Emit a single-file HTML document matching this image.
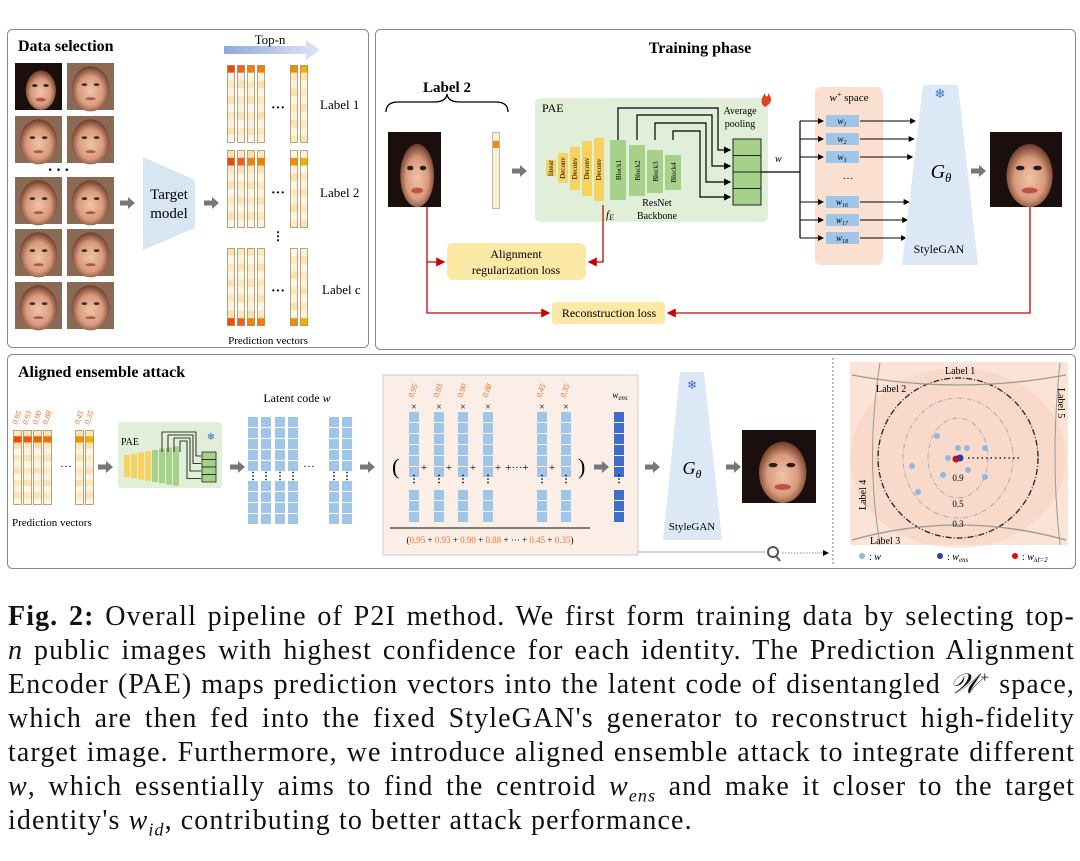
<!DOCTYPE html>
<html><head><meta charset="utf-8"><style>
body{margin:0;background:#fff;width:1080px;height:861px;overflow:hidden;position:relative;font-family:"Liberation Serif",serif}
svg{position:absolute;left:0;top:0}
.cap{position:absolute;left:8px;width:1067px;font-size:28px;letter-spacing:1.1px;line-height:34px;text-align:justify;text-align-last:justify;white-space:nowrap;color:#111}
.cap.l{text-align-last:left}
</style></head><body>
<svg id="s" width="1080" height="590" viewBox="0 0 1080 590" font-family="Liberation Serif, serif">
<defs>
<radialGradient id="skin" cx="50%" cy="55%" r="55%"><stop offset="0" stop-color="#f0c4a8"/><stop offset="0.6" stop-color="#d99a7c"/><stop offset="1" stop-color="#6a3a2a"/></radialGradient>
<linearGradient id="topn" x1="0" x2="1"><stop offset="0" stop-color="#8fa9dc"/><stop offset="1" stop-color="#dde6f6"/></linearGradient>
<g id="face"><rect width="100" height="100" fill="#1a0f0c"/><ellipse cx="55" cy="58" rx="32" ry="42" fill="url(#skin)"/><ellipse cx="42" cy="48" rx="6" ry="3" fill="#2b1a14"/><ellipse cx="66" cy="48" rx="6" ry="3" fill="#2b1a14"/><ellipse cx="55" cy="78" rx="11" ry="4" fill="#c0504a"/></g>
<g id="face2"><rect width="100" height="100" fill="#8a6a55"/><ellipse cx="50" cy="55" rx="40" ry="48" fill="url(#skin)"/><ellipse cx="37" cy="46" rx="6" ry="3" fill="#3b2a24"/><ellipse cx="63" cy="46" rx="6" ry="3" fill="#3b2a24"/><ellipse cx="50" cy="76" rx="11" ry="3" fill="#a45a50"/></g>
<marker id="ab" markerWidth="6" markerHeight="6" refX="5" refY="3" orient="auto"><path d="M0,0L6,3L0,6z" fill="#000"/></marker>
<marker id="ar" markerWidth="7" markerHeight="7" refX="6" refY="3.5" orient="auto"><path d="M0,0L7,3.5L0,7z" fill="#c00"/></marker>
<g id="garrow"><path d="M0,-2.5h8v-3.5l7,6l-7,6v-3.5h-8z" fill="#777"/></g>
</defs>
<rect x="7.5" y="29.5" width="361" height="318" rx="5" fill="none" stroke="#888"/>
<rect x="375.5" y="29.5" width="700" height="320" rx="5" fill="none" stroke="#888"/>
<rect x="7.5" y="354.5" width="1068" height="214" rx="5" fill="none" stroke="#888"/>
<line x1="833" y1="358" x2="833" y2="566" stroke="#777" stroke-dasharray="2,2"/>
<text x="18" y="51" font-size="16" font-weight="bold">Data selection</text>
<text x="700" y="53" font-size="16" font-weight="bold" text-anchor="middle">Training phase</text>
<text x="18" y="377" font-size="16" font-weight="bold">Aligned ensemble attack</text>
<g id="faces"></g>
<text x="60" y="175" font-size="16" font-weight="bold" text-anchor="middle" letter-spacing="3">···</text>
<use href="#garrow" x="120" y="203"/>
<path d="M143,157L195,180L195,228L143,250z" fill="#d6e6f2"/>
<text x="169" y="199" font-size="15" text-anchor="middle">Target</text>
<text x="169" y="218" font-size="15" text-anchor="middle">model</text>
<use href="#garrow" x="204" y="203"/>
<path d="M224,46h82v-6l14,10l-14,10v-6h-82z" fill="url(#topn)"/>
<text x="270" y="44" font-size="13" text-anchor="middle">Top-n</text>
<g id="pv"></g>
<text x="320" y="109" font-size="13">Label 1</text>
<text x="320" y="197" font-size="13">Label 2</text>
<text x="322" y="294" font-size="13">Label c</text>
<text x="268" y="344" font-size="11" text-anchor="middle">Prediction vectors</text>
<text x="278" y="240" font-size="12" font-weight="bold" text-anchor="middle">⋮</text>
<text x="447" y="92" font-size="15" font-weight="bold" text-anchor="middle">Label 2</text>
<path d="M386,112q0,-10 12,-10h36q12,0 13,-8q1,8 13,8h36q12,0 12,10" fill="none" stroke="#000" stroke-width="1.3"/>
<use href="#face" transform="translate(388,132) scale(0.53,0.75)"/>
<rect x="492.5" y="132.5" width="7" height="76" fill="#fdf0cf" stroke="#bbb"/>
<rect x="493" y="141" width="6" height="7" fill="#f08c10"/>
<use href="#garrow" x="512" y="171"/>
<rect x="535" y="98" width="233" height="124" rx="5" fill="#e2efd8"/>
<text x="542" y="112" font-size="12">PAE</text>
<g id="pae"></g>
<text x="657" y="206" font-size="10" text-anchor="middle">ResNet</text>
<text x="657" y="219" font-size="10" text-anchor="middle">Backbone</text>
<text x="606" y="218" font-size="11" font-style="italic">f<tspan font-size="8" dy="2">E</tspan></text>
<text x="740" y="114" font-size="10" text-anchor="middle">Average</text>
<text x="740" y="127" font-size="10" text-anchor="middle">pooling</text>
<path d="M765,107c-6,-4 -3,-10 0,-14c0,5 4,4 3,0c4,4 5,10 -3,14z" fill="#d42"/>
<text x="775" y="162" font-size="10" font-style="italic">w</text>
<rect x="815" y="87" width="68" height="178" rx="6" fill="#fbe0d1"/>
<text x="849" y="101" font-size="11" text-anchor="middle"><tspan font-style="italic">w</tspan><tspan font-size="8" dy="-4">+</tspan><tspan dy="4"> space</tspan></text>
<text x="848" y="182" font-size="11" text-anchor="middle">···</text>
<g id="wp"></g>
<path d="M923,85L958,85L978,265L902,265z" fill="#dce8f5"/>
<text x="940" y="98" font-size="13" fill="#3a6ad8" text-anchor="middle">❄</text>
<text x="941" y="178" font-size="20" font-style="italic" text-anchor="middle">G<tspan font-size="13" dy="4">θ</tspan></text>
<text x="939" y="253" font-size="12" text-anchor="middle">StyleGAN</text>
<use href="#garrow" x="971" y="171"/>
<use href="#face" transform="translate(990,132) scale(0.72,0.75)"/>
<rect x="447" y="243" width="139" height="37" rx="6" fill="#fde9a6"/>
<text x="516" y="258" font-size="12" text-anchor="middle">Alignment</text>
<text x="516" y="274" font-size="12" text-anchor="middle">regularization loss</text>
<rect x="552" y="302" width="113" height="22" rx="3" fill="#fde9a6"/>
<text x="609" y="317" font-size="12" text-anchor="middle">Reconstruction loss</text>
<g fill="none" stroke="#c00" stroke-width="1.3">
<path d="M427,207V313H549" marker-end="url(#ar)"/>
<path d="M427,262H444" marker-end="url(#ar)"/>
<path d="M603,205V262H589" marker-end="url(#ar)"/>
<path d="M1030,207V313H668" marker-end="url(#ar)"/>
</g>
<g id="bottom"></g>
<text x="12" y="526" font-size="11">Prediction vectors</text>
<text x="60" y="470" font-size="12">···</text>
<use href="#garrow" x="98" y="467"/>
<rect x="118" y="422" width="104" height="66" rx="3" fill="#e2efd8"/>
<text x="121" y="445" font-size="10">PAE</text>
<text x="211" y="440" font-size="10" fill="#3a6ad8" text-anchor="middle">❄</text>
<use href="#garrow" x="230" y="467"/>
<text x="297" y="402" font-size="12" text-anchor="middle">Latent code <tspan font-style="italic">w</tspan></text>
<text x="303" y="470" font-size="12">···</text>
<use href="#garrow" x="360" y="467"/>
<rect x="383" y="375" width="255" height="180" fill="#fbeee6" stroke="#ccc"/>
<line x1="390" y1="528" x2="590" y2="528" stroke="#555" stroke-width="1.5"/>
<text x="490" y="543" font-size="9" text-anchor="middle">(<tspan fill="#f07030">0.95</tspan> + <tspan fill="#f07030">0.93</tspan> + <tspan fill="#f07030">0.90</tspan> + <tspan fill="#f07030">0.88</tspan> + ··· + <tspan fill="#f07030">0.45</tspan> + <tspan fill="#f07030">0.35</tspan>)</text>
<text x="392" y="474" font-size="22">(</text>
<text x="578" y="474" font-size="22">)</text>
<text x="620" y="398" font-size="9" font-style="italic" text-anchor="middle">w<tspan font-size="7" dy="2">ens</tspan></text>
<use href="#garrow" x="594" y="467"/>
<use href="#garrow" x="645" y="467"/>
<path d="M680,372L704,372L722,540L663,540z" fill="#dce8f5"/>
<text x="692" y="389" font-size="12" fill="#3a6ad8" text-anchor="middle">❄</text>
<text x="692" y="474" font-size="18" font-style="italic" text-anchor="middle">G<tspan font-size="12" dy="4">θ</tspan></text>
<text x="692" y="530" font-size="11" text-anchor="middle">StyleGAN</text>
<use href="#garrow" x="726" y="467"/>
<use href="#face" transform="translate(742,430) scale(0.74,0.73)"/>
<line x1="638" y1="552" x2="765" y2="552" stroke="#aaa"/>
<circle cx="773" cy="552" r="5" fill="none" stroke="#555" stroke-width="2"/>
<line x1="776" y1="556" x2="780" y2="561" stroke="#555" stroke-width="2"/>
<path d="M782,553H828" stroke="#888" stroke-dasharray="1.5,1.5" marker-end="url(#ab)"/>
<rect x="850" y="362" width="218" height="183" fill="#fbe3d5"/>
<ellipse cx="958" cy="458" rx="108" ry="90" fill="#f7d2c0" opacity="0.5"/>
<ellipse cx="958" cy="458" rx="80" ry="80" fill="none" stroke="#222" stroke-width="1.3" stroke-dasharray="6,2,1,2"/>
<ellipse cx="958" cy="458" rx="55" ry="60" fill="none" stroke="#aaa" stroke-dasharray="5,2,1,2"/>
<ellipse cx="958" cy="458" rx="30" ry="40" fill="none" stroke="#aaa" stroke-dasharray="5,2,1,2"/>
<path d="M852,375Q958,395 1066,375" fill="none" stroke="#999" stroke-width="1.3"/>
<path d="M852,540Q958,510 1066,540" fill="none" stroke="#999" stroke-width="1.3"/>
<path d="M880,363Q865,455 880,545" fill="none" stroke="#999"/>
<path d="M1060,363Q1050,455 1060,545" fill="none" stroke="#999"/>
<text x="945" y="374" font-size="10">Label 1</text>
<text x="876" y="392" font-size="10">Label 2</text>
<text x="870" y="544" font-size="10">Label 3</text>
<text x="866" y="510" font-size="10" transform="rotate(-90 866 510)">Label 4</text>
<text x="1058" y="388" font-size="10" transform="rotate(90 1058 388)">Label 5</text>
<text x="958" y="481" font-size="9" text-anchor="middle">0.9</text>
<text x="958" y="507" font-size="9" text-anchor="middle">0.5</text>
<text x="958" y="527" font-size="9" text-anchor="middle">0.3</text>
<path d="M968,458H1020" stroke="#222" stroke-dasharray="1.5,3" stroke-width="1.5"/>
<g fill="#8fb8e3"><circle cx="937" cy="436" r="3"/><circle cx="958" cy="448" r="3"/><circle cx="967" cy="448" r="3"/><circle cx="985" cy="448" r="3"/><circle cx="912" cy="466" r="3"/><circle cx="968" cy="470" r="3"/><circle cx="985" cy="477" r="3"/><circle cx="943" cy="475" r="3"/><circle cx="918" cy="492" r="3"/><circle cx="948" cy="458" r="3"/></g>
<circle cx="956" cy="459" r="3.5" fill="#e00"/><circle cx="960" cy="458" r="3.5" fill="#2a3fa8"/>
<circle cx="862" cy="556" r="3" fill="#8fb8e3"/><text x="869" y="560" font-size="10">: <tspan font-style="italic">w</tspan></text>
<circle cx="940" cy="556" r="3" fill="#2a3fa8"/><text x="947" y="560" font-size="10">: <tspan font-style="italic">w<tspan font-size="7" dy="2">ens</tspan></tspan></text>
<circle cx="1015" cy="556" r="3" fill="#e00"/><text x="1022" y="560" font-size="10">: <tspan font-style="italic">w<tspan font-size="7" dy="2">id=2</tspan></tspan></text>
<g id="b2"></g>
</svg>
<div class="cap" style="top:600px"><b>Fig. 2:</b> Overall pipeline of P2I method. We first form training data by selecting top-</div>
<div class="cap" style="top:634px"><i>n</i> public images with highest confidence for each identity. The Prediction Alignment</div>
<div class="cap" style="top:668px">Encoder (PAE) maps prediction vectors into the latent code of disentangled <i>𝒲</i><sup style="font-size:16px;line-height:0">+</sup> space,</div>
<div class="cap" style="top:702px">which are then fed into the fixed StyleGAN's generator to reconstruct high-fidelity</div>
<div class="cap" style="top:736px">target image. Furthermore, we introduce aligned ensemble attack to integrate different</div>
<div class="cap" style="top:770px"><i>w</i>, which essentially aims to find the centroid <i>w<sub style="font-size:18px;line-height:0">ens</sub></i> and make it closer to the target</div>
<div class="cap l" style="top:804px">identity's <i>w<sub style="font-size:18px;line-height:0">id</sub></i>, contributing to better attack performance.</div>
<script>
const NS="http://www.w3.org/2000/svg";
function el(p,t,a){const e=document.createElementNS(NS,t);for(const k in a)e.setAttribute(k,a[k]);document.getElementById(p).appendChild(e);return e;}
const fx=[15,67],fy=[63,116,177,229,282];
fy.forEach((y,i)=>fx.forEach((x,j)=>{el("faces","use",{href:(i==0&&j==0)?"#face":"#face2",transform:`translate(${x},${y}) scale(0.47,0.47)`});}));
const tints=["#fdf3dc","#fde9c0","#fef6e6","#fbe2b0"];
function pvcol(p,x,y0,h,w,n,topIdx,topCol){for(let k=0;k<n;k++){const y=y0+k*h/n;el(p,"rect",{x:x,y:y,width:w,height:h/n,fill:k==topIdx?topCol:tints[(k*7+x)%4]});}el(p,"rect",{x:x+.5,y:y0+.5,width:w-1,height:h-1,fill:"none",stroke:"#a89070","stroke-width":0.8});}
const cols=[[227,"#f04a00"],[237,"#f06020"],[247,"#f08010"],[257,"#f08000"],[290,"#f09000"],[300,"#f0b000"]];
[[65,0],[150,1],[248,9]].forEach(([y0,ti])=>{cols.forEach(([x,c])=>pvcol("pv",x,y0,78,8,10,ti,c));el("pv","text",{x:278,y:y0+47,"font-size":14,"font-weight":"bold","text-anchor":"middle"}).textContent="···";});
const yel=[[546,160,176,"linear"],[558,153,183,"Deconv"],[570,147,190,"Deconv"],[582,141,196,"Deconv"],[594,138,201,"Deconv"]];
yel.forEach(([x,y1,y2,t])=>{el("pae","rect",{x:x,y:y1,width:10,height:y2-y1,fill:"#f7d261"});el("pae","text",{x:x+7,y:(y1+y2)/2,"font-size":7,"text-anchor":"middle",transform:`rotate(-90 ${x+7} ${(y1+y2)/2})`}).textContent=t;});
const grn=[[610,140,200,"Block1"],[629,145,196,"Block2"],[647,150,193,"Block3"],[665,155,190,"Block4"]];
grn.forEach(([x,y1,y2,t])=>{el("pae","rect",{x:x,y:y1,width:16,height:y2-y1,fill:"#a6d18a"});el("pae","text",{x:x+11,y:(y1+y2)/2,"font-size":7,"text-anchor":"middle",transform:`rotate(-90 ${x+11} ${(y1+y2)/2})`}).textContent=t;});
for(let k=0;k<4;k++)el("pae","rect",{x:733,y:139+k*16.5,width:28,height:16.5,fill:"#a6d18a",stroke:"#222"});
[[618,108,718,150],[637,115,712,166],[655,123,706,182],[673,131,700,197]].forEach(([x,yt,xr,ye])=>el("pae","path",{d:`M${x},140V${yt}H${xr}V${ye}H730`,fill:"none",stroke:"#000","stroke-width":1.2,"marker-end":"url(#ab)"}));
el("pae","path",{d:"M761,172H800",stroke:"#000","stroke-width":1.2});
const wy=[[121,"1"],[139,"2"],[157,"3"],[202,"16"],[220,"17"],[238,"18"]];
el("wp","path",{d:"M800,121V238",stroke:"#000","stroke-width":1.2});
wy.forEach(([y,s])=>{el("wp","path",{d:`M800,${y}H823`,stroke:"#000","marker-end":"url(#ab)"});el("wp","rect",{x:826,y:y-6,width:33,height:12,fill:"#9fc5e8"});const t=el("wp","text",{x:842,y:y+3,"font-size":9,"text-anchor":"middle","font-style":"italic"});t.innerHTML=`w<tspan font-size="6" dy="2">${s}</tspan>`;el("wp","path",{d:`M860,${y}H${918-(y-85)*0.08}`,stroke:"#000","marker-end":"url(#ab)"});});
[[13,"#f04a00"],[23,"#f05a10"],[33,"#f06000"],[43,"#f07000"],[75,"#f09000"],[85,"#f0b000"]].forEach(([x,c])=>pvcol("bottom",x,430,75,9,12,1,c));
[[17,"0.95"],[27,"0.93"],[37,"0.90"],[47,"0.88"],[79,"0.45"],[89,"0.35"]].forEach(([x,t])=>{el("bottom","text",{x:x,y:425,"font-size":8,fill:"#f06020","font-style":"italic",transform:`rotate(-70 ${x} 425)`}).textContent=t;});
for(let k=0;k<8;k++){const h=22+k*2.5;el("b2","rect",{x:124+k*7,y:466-h/2,width:6,height:h,fill:k<4?"#f7d261":"#a6d18a"});}
for(let k=0;k<4;k++)el("b2","rect",{x:202,y:452+k*7.5,width:14,height:7.5,fill:"#a6d18a",stroke:"#222","stroke-width":.8});
for(let k=0;k<4;k++)el("b2","path",{d:`M${162+k*6},452V${432+k*3}H${196-k*3}V${456+k*7.5}H201`,fill:"none",stroke:"#000","stroke-width":.8});
function bcol(p,x,ys,c){ys.forEach(([y0,n])=>{for(let k=0;k<n;k++)el(p,"rect",{x:x,y:y0+k*11,width:10,height:10,fill:c});});}
[248,261,275,288,329,342].forEach(x=>{bcol("bottom",x,[[417,5],[481,4]],"#9fc5e8");el("bottom","text",{x:x+5,y:479,"font-size":10,"font-weight":"bold","text-anchor":"middle"}).textContent="⋮";});
const ex=[[409,"0.95"],[434,"0.93"],[458,"0.90"],[483,"0.88"],[537,"0.45"],[561,"0.35"]];
ex.forEach(([x,t])=>{bcol("b2",x,[[412,6]],"#9fc5e8");bcol("b2",x,[[490,3]],"#9fc5e8");el("b2","text",{x:x+5,y:482,"font-size":10,"font-weight":"bold","text-anchor":"middle"}).textContent="⋮";el("b2","text",{x:x+5,y:410,"font-size":10,"text-anchor":"middle"}).textContent="×";el("b2","text",{x:x+4,y:398,"font-size":8,fill:"#f06020","font-style":"italic",transform:`rotate(-70 ${x+4} 398)`}).textContent=t;});
[424,449,473,498,552].forEach(x=>{el("b2","text",{x:x,y:471,"font-size":11,"text-anchor":"middle"}).textContent="+";});
el("b2","text",{x:517,y:471,"font-size":11,"text-anchor":"middle"}).textContent="+···+";
bcol("b2",614,[[412,6],[490,3]],"#3d6fc9");
el("b2","text",{x:619,y:482,"font-size":10,"font-weight":"bold","text-anchor":"middle"}).textContent="⋮";
</script>
</body></html>
